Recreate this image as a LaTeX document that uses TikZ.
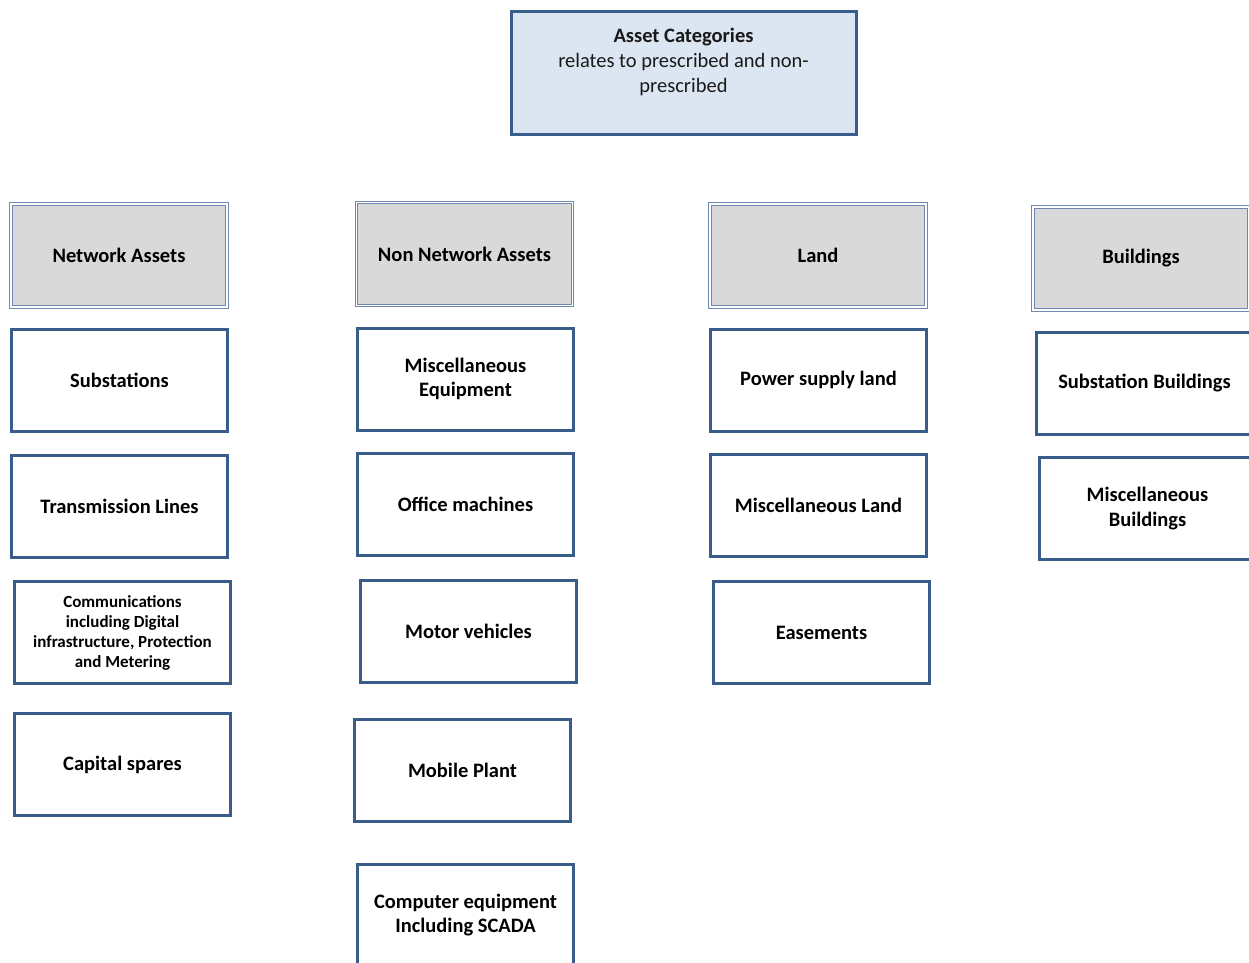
\documentclass[tikz,border=0pt]{standalone}
\usepackage{fontspec}
\setmainfont{Carlito}
\definecolor{boxblue}{RGB}{56,93,138}
\definecolor{topfill}{RGB}{220,230,242}
\definecolor{headfill}{RGB}{217,217,217}
\definecolor{headline}{RGB}{110,137,175}
\begin{document}
\begin{tikzpicture}[x=1pt,y=-1pt,
  topbox/.style={draw=boxblue, line width=3pt, fill=topfill, minimum width=345pt, minimum height=123pt},
  toptext/.style={align=center, text=black!90, font=\fontsize{20.5}{25}\selectfont},
  headbox/.style={draw=headline, line width=1.1pt, double=white, double distance=1.6pt, fill=headfill,
    minimum width=216pt, minimum height=103pt, align=center, font=\fontsize{20.5}{25}\selectfont\bfseries},
  itembox/.style={draw=boxblue, line width=3pt, fill=white, minimum width=216pt, minimum height=102pt,
    align=center, font=\fontsize{20.5}{24.5}\selectfont\bfseries},
  smallitem/.style={itembox, font=\fontsize{17}{20}\selectfont\bfseries}
]
\useasboundingbox (0,0) rectangle (1249,962);
\clip (0,0) rectangle (1249,962);

% root
\node[topbox] (root) at (683.5,72.5) {};
\node[toptext] (roottext) at (683.5,62) {\textbf{Asset Categories}\\relates to prescribed and non-\\prescribed};

% category headers
\node[headbox] (net)   at (119,255.5)  {Network Assets};
\node[headbox] (nonnet) at (464.5,254) {Non Network Assets};
\node[headbox] (land)  at (818,255.5)  {Land};
\node[headbox] (bldg)  at (1141,258.5) {Buildings};

% network assets
\node[itembox] (subst) at (119.5,380)   {Substations};
\node[itembox] (trans) at (119.5,506.5) {Transmission Lines};
\node[smallitem] (comms) at (122.5,632.5) {Communications\\including Digital\\infrastructure, Protection\\and Metering};
\node[itembox] (spares) at (122.5,764.5) {Capital spares};

% non network assets
\node[itembox] (misceq)  at (465.5,379)   {Miscellaneous\\Equipment};
\node[itembox] (office)  at (465.5,504)   {Office machines};
\node[itembox] (motor)   at (468.5,631)   {Motor vehicles};
\node[itembox] (mobile)  at (462.5,770)   {Mobile Plant};
\node[itembox] (computer) at (465.5,915)  {Computer equipment\\Including SCADA};

% land
\node[itembox] (psland)   at (818.5,380)   {Power supply land};
\node[itembox] (miscland) at (818.5,505)   {Miscellaneous Land};
\node[itembox] (easement) at (821.5,632.5) {Easements};

% buildings
\node[itembox] (substb) at (1144.5,383)   {Substation Buildings};
\node[itembox] (miscb)  at (1147.5,508.5) {Miscellaneous\\Buildings};
\end{tikzpicture}
\end{document}
